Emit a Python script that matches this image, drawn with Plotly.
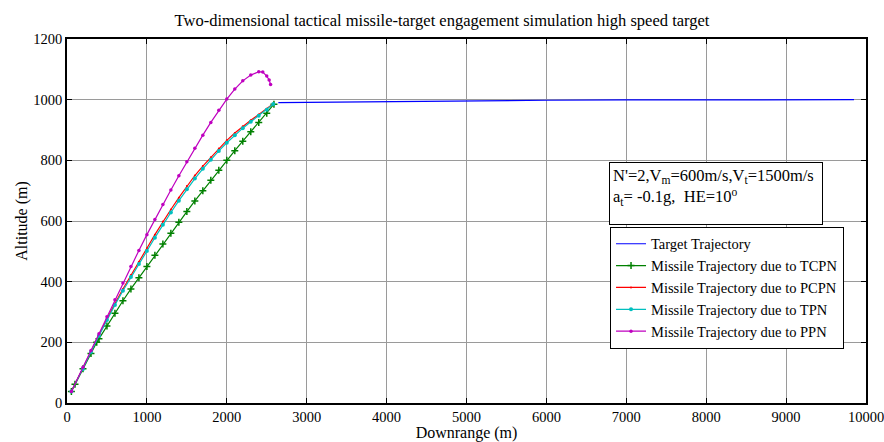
import plotly.graph_objects as go

# ---- data ----
target_x = [2645, 3000, 4000, 5000, 6000, 7000, 8000, 9000, 9850]
target_y = [990, 991, 994, 996, 998, 999, 1000, 1000, 1000]

tcpn_x = [55, 100, 200, 300, 372, 400, 500, 600, 700, 800, 900, 1000, 1100, 1200, 1300, 1400,
          1500, 1600, 1700, 1800, 1900, 2000, 2100, 2200, 2300, 2400, 2500, 2590]
tcpn_y = [38, 62, 113, 163, 200, 212, 254, 296, 337, 376, 413, 450, 487, 524, 560, 596,
          631, 666, 700, 734, 767, 800, 832, 863, 894, 925, 955, 985]

pcpn_x = [55, 200, 300, 400, 500, 600, 700, 800, 900, 1000, 1100, 1200, 1300, 1400, 1500,
          1600, 1700, 1800, 1900, 2000, 2100, 2200, 2300, 2400, 2500, 2582]
pcpn_y = [38, 113, 170, 225, 278, 328, 376, 422, 466, 510, 555, 598, 638, 677, 715,
          750, 781, 810, 839, 866, 890, 912, 932, 951, 970, 987]

tpn_x = [55, 200, 300, 400, 500, 600, 700, 800, 900, 1000, 1100, 1200, 1300, 1400, 1500,
         1600, 1700, 1800, 1900, 2000, 2100, 2200, 2300, 2400, 2500, 2582]
tpn_y = [38, 112, 168, 222, 274, 323, 370, 415, 458, 501, 545, 588, 628, 667, 705,
         740, 772, 802, 831, 858, 883, 906, 927, 947, 967, 986]

ppn_x = [55, 200, 300, 400, 500, 600, 700, 800, 900, 1000, 1100, 1200, 1300, 1400, 1500,
         1600, 1700, 1800, 1900, 2000, 2100, 2200, 2300, 2400, 2450, 2500, 2530, 2548]
ppn_y = [38, 118, 173, 228, 284, 340, 396, 450, 503, 555, 605, 654, 702, 749, 795,
         840, 883, 925, 965, 1002, 1035, 1062, 1081, 1092, 1091, 1078, 1065, 1050]

x_ticks = [0, 1000, 2000, 3000, 4000, 5000, 6000, 7000, 8000, 9000, 10000]
y_ticks = [0, 200, 400, 600, 800, 1000, 1200]

FONT = "Liberation Serif"

fig = go.Figure()
fig.add_trace(go.Scatter(x=target_x, y=target_y, mode="lines", name="Target Trajectory",
                         line=dict(color="#0000FF", width=1.2)))
fig.add_trace(go.Scatter(x=tcpn_x, y=tcpn_y, mode="lines+markers",
                         name="Missile Trajectory due to TCPN",
                         line=dict(color="#008000", width=1.2),
                         marker=dict(symbol="cross-thin", size=5,
                                     line=dict(color="#008000", width=1.5))))
fig.add_trace(go.Scatter(x=pcpn_x, y=pcpn_y, mode="lines+markers",
                         name="Missile Trajectory due to PCPN",
                         line=dict(color="#FF0000", width=1.2),
                         marker=dict(size=2, color="#FF0000")))
fig.add_trace(go.Scatter(x=tpn_x, y=tpn_y, mode="lines+markers",
                         name="Missile Trajectory due to TPN",
                         line=dict(color="#00BFBF", width=1.2),
                         marker=dict(size=4, color="#00BFBF")))
fig.add_trace(go.Scatter(x=ppn_x, y=ppn_y, mode="lines+markers",
                         name="Missile Trajectory due to PPN",
                         line=dict(color="#BF00BF", width=1.2),
                         marker=dict(size=3.5, color="#BF00BF")))

axis_common = dict(showline=True, linecolor="black", linewidth=1.5, mirror="ticks",
                   ticks="inside", ticklen=5, tickcolor="black", automargin=False,
                   ticklabeloverflow="allow",
                   showgrid=True, gridcolor="#9a9a9a", gridwidth=1, zeroline=False,
                   tickfont=dict(family=FONT, size=14.5, color="black"))

fig.update_xaxes(range=[0, 10000], tickvals=x_ticks, ticktext=[str(v) for v in x_ticks],
                 title=dict(text="Downrange (m)", font=dict(family=FONT, size=16, color="black"),
                            standoff=0),
                 **axis_common)
fig.update_yaxes(range=[0, 1200], tickvals=y_ticks, ticktext=[str(v) for v in y_ticks],
                 title=dict(text="Altitude (m)", font=dict(family=FONT, size=16, color="black"),
                            standoff=2),
                 **axis_common)

fig.add_annotation(xref="paper", yref="paper", x=0.946, y=0.662, xanchor="right", yanchor="top",
                   text="N'=2,V<sub>m</sub>=600m/s,V<sub>t</sub>=1500m/s<br>"
                        "a<sub>t</sub>= -0.1g,  HE=10<sup>o</sup>",
                   showarrow=False, align="left", valign="top",
                   width=206, height=55, borderpad=3,
                   bordercolor="black", borderwidth=1, bgcolor="white",
                   font=dict(family=FONT, size=16.5, color="black"))

fig.update_layout(
    width=884, height=442,
    margin=dict(l=67, r=18, t=39, b=39),
    paper_bgcolor="white", plot_bgcolor="white",
    title=dict(text="Two-dimensional tactical missile-target engagement simulation high speed target",
               x=0.5, xanchor="center", y=0.967, yanchor="top",
               font=dict(family=FONT, size=16.5, color="black")),
    font=dict(family=FONT, size=16, color="black"),
    legend=dict(x=0.9725, y=0.484, xanchor="right", yanchor="top",
                bgcolor="white", bordercolor="black", borderwidth=1,
                font=dict(family=FONT, size=14.5, color="black"),
                tracegroupgap=0, itemwidth=30),
    showlegend=True,
)

fig.write_html("out.html", config={"displayModeBar": False},
               post_script="document.body.style.margin='0';document.body.style.padding='0';")
